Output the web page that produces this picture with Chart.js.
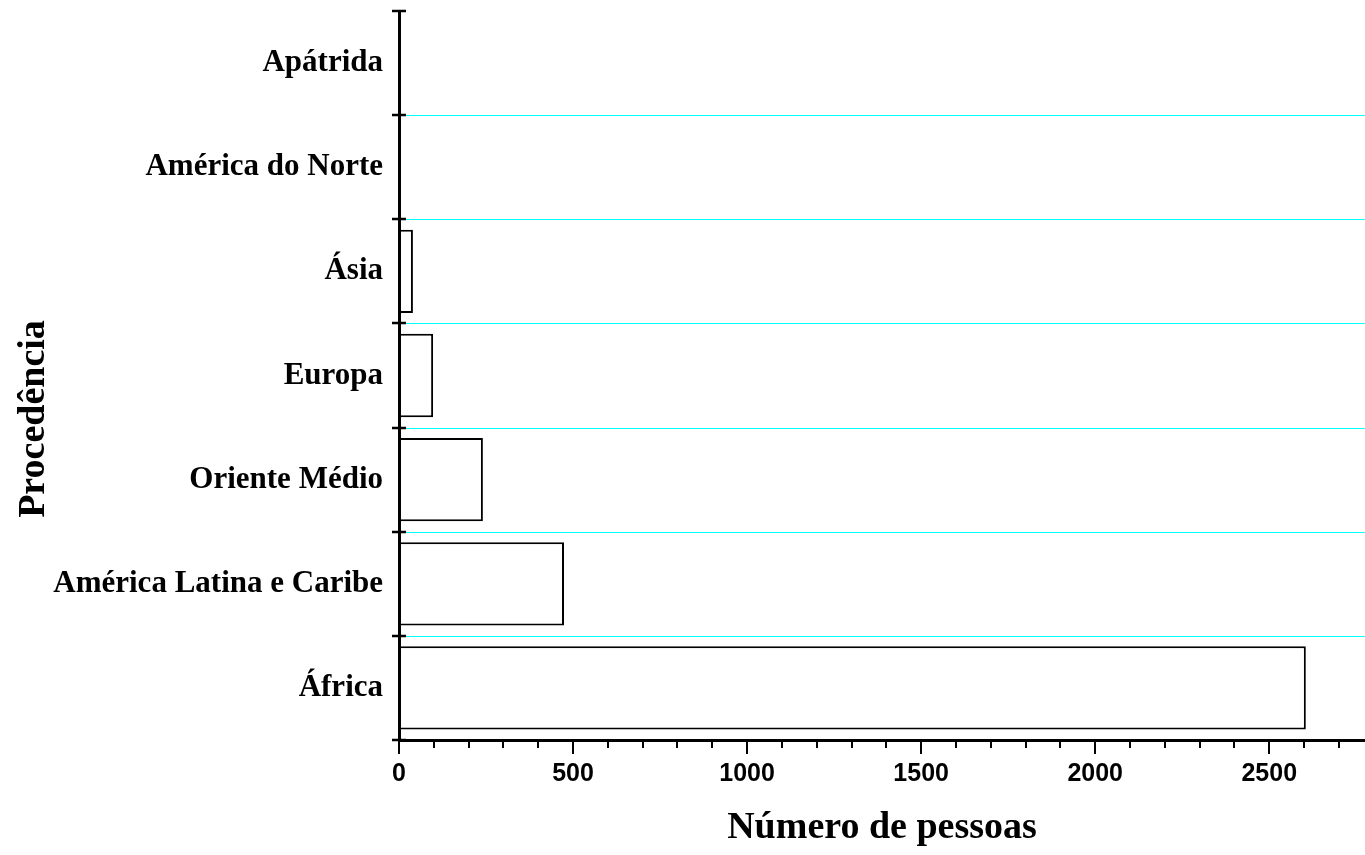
<!DOCTYPE html>
<html><head><meta charset="utf-8">
<script src="https://cdn.jsdelivr.net/npm/chart.js@4/dist/chart.umd.min.js"></script>
<style>html,body{margin:0;padding:0;background:#fff;overflow:hidden}#wrap{position:relative;width:1365px;height:855px}</style>
</head><body><div id="wrap"><canvas id="c"></canvas></div>
<script>
const categories = ['Apátrida','América do Norte','Ásia','Europa','Oriente Médio','América Latina e Caribe','África'];
const pessoas = [0, 0, 40, 98, 241, 474, 2605];
const xTickLabels = ['0','500','1000','1500','2000','2500'];
const xAxisTitle = 'Número de pessoas';
const yAxisTitle = 'Procedência';

const tickPlugin = {
  id: 'tickPlugin',
  beforeDatasetsDraw(chart) {
    const ctx = chart.ctx;
    const xs = chart.scales.x, ys = chart.scales.y;
    ctx.save();
    ctx.strokeStyle = '#00ffff';
    ctx.lineWidth = 1;
    for (let i = 1; i < categories.length; i++) {
      const py = Math.round(ys.getPixelForValue(i - 0.5)) + 0.5;
      ctx.beginPath();
      ctx.moveTo(xs.left, py);
      ctx.lineTo(chart.width, py);
      ctx.stroke();
    }
    ctx.restore();
  },
  afterDraw(chart) {
    const ctx = chart.ctx;
    const xs = chart.scales.x, ys = chart.scales.y;
    const axisY = ys.bottom, axisX = xs.left;
    ctx.save();
    ctx.strokeStyle = '#000';
    ctx.lineWidth = 2;
    xs.ticks.forEach(t => {
      const px = Math.round(xs.getPixelForValue(t.value));
      const major = t.value % 500 === 0;
      ctx.beginPath();
      ctx.moveTo(px, axisY);
      ctx.lineTo(px, axisY + (major ? 14 : 8));
      ctx.stroke();
    });
    ctx.lineWidth = 2.5;
    for (let i = 0; i <= categories.length; i++) {
      const py = Math.round(ys.getPixelForValue(i - 0.5));
      ctx.beginPath();
      ctx.moveTo(axisX - 7, py);
      ctx.lineTo(axisX + 7, py);
      ctx.stroke();
    }
    ctx.fillStyle = '#000';
    ctx.font = 'bold 38px "Liberation Serif", "Times New Roman", serif';
    ctx.textAlign = 'center';
    ctx.textBaseline = 'alphabetic';
    ctx.fillText(xAxisTitle, (xs.left + xs.right) / 2, 838);
    ctx.translate(44, 419);
    ctx.rotate(-Math.PI / 2);
    ctx.fillText(yAxisTitle, 0, 0);
    ctx.restore();
  }
};

new Chart(document.getElementById('c'), {
  type: 'bar',
  data: {
    labels: categories,
    datasets: [{
      data: pessoas,
      backgroundColor: '#ffffff',
      borderColor: '#000000',
      borderWidth: 2,
      barPercentage: 1,
      categoryPercentage: 0.8
    }]
  },
  options: {
    indexAxis: 'y',
    responsive: true,
    maintainAspectRatio: false,
    animation: false,
    layout: { padding: { top: 11, right: 0, left: 0, bottom: 0 } },
    plugins: { legend: { display: false }, tooltip: { enabled: false } },
    scales: {
      x: {
        type: 'linear',
        min: 0,
        max: 2775,
        afterFit: s => { s.height = 115; },
        grid: { display: false, drawTicks: false },
        border: { display: true, color: '#000', width: 3, z: 1 },
        ticks: {
          stepSize: 100,
          includeBounds: false,
          autoSkip: false,
          maxRotation: 0,
          padding: 19,
          color: '#000',
          font: { family: '"Liberation Sans", Arial, sans-serif', weight: 'bold', size: 25 },
          callback: v => {
            const i = v / 500;
            return Number.isInteger(i) && xTickLabels[i] !== undefined ? xTickLabels[i] : '';
          }
        }
      },
      y: {
        type: 'category',
        afterFit: s => { s.width = 399; s.paddingTop = 0; s.paddingBottom = 0; },
        grid: { display: false, drawTicks: false, offset: true },
        border: { display: true, color: '#000', width: 3, z: 1 },
        ticks: {
          padding: 16,
          color: '#000',
          font: { family: '"Liberation Serif", "Times New Roman", serif', weight: 'bold', size: 31 }
        }
      }
    }
  },
  plugins: [tickPlugin]
});
</script></body></html>
